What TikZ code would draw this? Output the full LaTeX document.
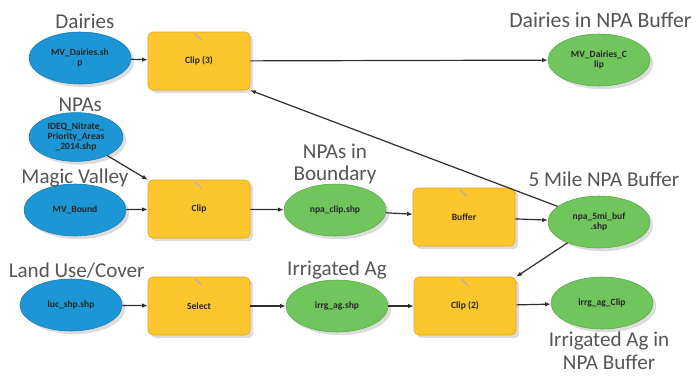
\documentclass[tikz,border=0pt]{standalone}
\usepackage{fontspec}
\setmainfont{Carlito}
\usetikzlibrary{arrows.meta, shapes, shadows}

\definecolor{inblue}{RGB}{28,150,212}
\definecolor{inblueline}{RGB}{22,120,178}
\definecolor{outgreen}{RGB}{112,198,92}
\definecolor{outgreenline}{RGB}{86,168,70}
\definecolor{toolyellow}{RGB}{252,198,44}
\definecolor{toolyellowline}{RGB}{226,164,32}
\definecolor{labelgray}{RGB}{85,85,85}
\definecolor{flowgray}{RGB}{45,45,45}

\begin{document}
\begin{tikzpicture}[
    % GLOBAL CFG
    font=\fontsize{6.8}{7.2}\selectfont\bfseries,
    >={Latex[length=4pt,width=3.2pt]},
    % Styles
    dataset/.style={% For input data (blue ovals)
        ellipse,
        draw=inblueline,
        fill=inblue,
        text=black!85,
        minimum width=2.55cm,
        minimum height=1.3cm,
        inner sep=0pt,
        drop shadow={shadow xshift=.08cm, shadow yshift=-.08cm, fill=gray!55},
    },
    result/.style={% For derived data (green ovals)
        dataset,
        draw=outgreenline,
        fill=outgreen,
    },
    tool/.style={% For geoprocessing tools
        rectangle,
        rounded corners=1.2mm,
        draw=toolyellowline,
        fill=toolyellow,
        text=black!85,
        minimum width=2.55cm,
        minimum height=1.45cm,
        drop shadow={shadow xshift=.08cm, shadow yshift=-.08cm, fill=gray!55},
    },
    toolicon/.style={% Little pencil on each tool
        line width=1pt,
        draw=brown!35!gray!60,
        line cap=round,
    },
    mylabel/.style={
        font=\fontsize{15}{16}\selectfont,
        text=labelgray,
    },
    flow/.style={% Arrows between the steps
        ->,
        draw=flowgray,
        line width=.85pt,
    },
    every text node part/.style={
        align=center
    },
    ]
    \useasboundingbox (0,0) rectangle (17.425,-9.425);

    % Draw inputs (blue)
    \node [dataset, label={[mylabel, label distance=-1pt, xshift=3.5pt]above:Dairies}] (dairies) at (2.0,-1.45) {MV\_Dairies.sh\\p};
    \node [dataset, minimum width=2.35cm, minimum height=1.22cm, label={[mylabel, label distance=-3pt, xshift=3pt]above:NPAs}] (npas) at (1.9,-3.425) {IDEQ\_Nitrate\_\\Priority\_Areas\\\_2014.shp};
    \node [dataset, label={[mylabel, label distance=-6pt]above:Magic Valley}] (mvbound) at (1.875,-5.25) {MV\_Bound};
    \node [dataset, label={[mylabel, label distance=-3pt, xshift=4pt]above:Land Use/Cover}] (luc) at (1.775,-7.625) {luc\_shp.shp};

    % Draw tools
    \node [tool] (clipC) at (4.975,-1.525) {Clip (3)};
    \node [tool] (clipA) at (4.975,-5.225) {Clip};
    \node [tool] (buffer) at (11.6,-5.425) {Buffer};
    \node [tool] (select) at (4.975,-7.65) {Select};
    \node [tool] (clipB) at (11.625,-7.65) {Clip (2)};
    \foreach \t in {clipC,clipA,buffer,select,clipB}
        \draw [toolicon] ([xshift=-3pt,yshift=-1.5pt]\t.north) -- ++(5pt,-4.5pt);

    % Draw outputs (green)
    \node [result, label={[mylabel, font=\fontsize{15.5}{16}\selectfont, label distance=1pt, xshift=1pt]above:Dairies in NPA Buffer}] (dairiesbuf) at (14.975,-1.5) {MV\_Dairies\_C\\lip};
    \node [result, label={[mylabel, label distance=-4pt]above:NPAs in\\Boundary}] (npaclip) at (8.375,-5.25) {npa\_clip.shp};
    \node [result, label={[mylabel, label distance=3pt, xshift=3.5pt]above:5 Mile NPA Buffer}] (npabuf) at (14.975,-5.55) {npa\_5mi\_buf\\.shp};
    \node [result, label={[mylabel, label distance=-3pt]above:Irrigated Ag}] (irrgag) at (8.425,-7.65) {irrg\_ag.shp};
    \node [result, label={[mylabel, label distance=-1.5pt, xshift=5pt]below:Irrigated Ag in\\NPA Buffer}] (irrgclip) at (15.05,-7.575) {irrg\_ag\_Clip};

    % Connect all
    \draw [flow] (dairies) -- (clipC);
    \draw [flow] (clipC) -- (dairiesbuf);
    \draw [flow] (npas) -- (clipA.north west);
    \draw [flow] (mvbound) -- (clipA);
    \draw [flow] (clipA) -- (npaclip);
    \draw [flow] (npaclip) -- (buffer);
    \draw [flow] (buffer) -- (npabuf);
    \draw [flow] (npabuf) -- (clipC.south east);
    \draw [flow] (npabuf) -- (clipB.north east);
    \draw [flow] (luc) -- (select);
    \draw [flow] (select) -- (irrgag);
    \draw [flow] (irrgag) -- (clipB);
    \draw [flow] (clipB) -- (irrgclip);

\end{tikzpicture}
\end{document}
